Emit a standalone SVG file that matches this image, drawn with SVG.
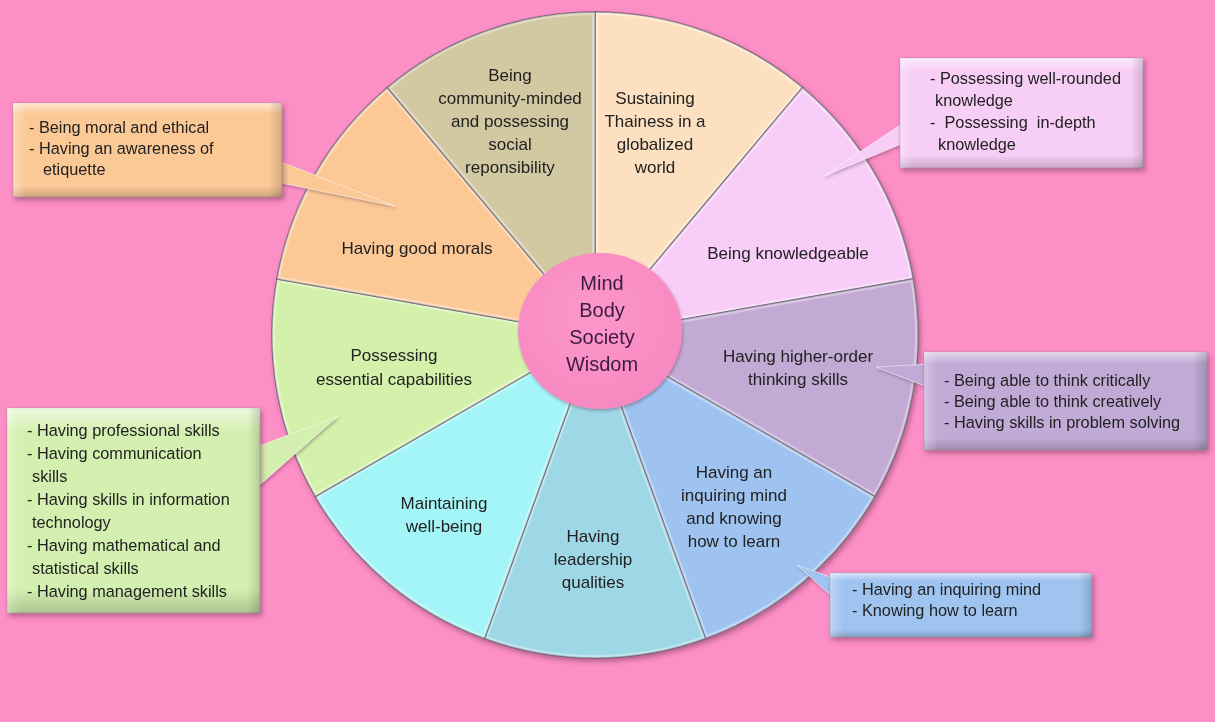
<svg xmlns="http://www.w3.org/2000/svg" width="1215" height="722" viewBox="0 0 1215 722">
<style>
text{font-family:"Liberation Sans",Arial,sans-serif;fill:#222}
.wl{font-size:17px;text-anchor:middle}
.bx{font-size:16.3px;white-space:pre}
.ctr{font-size:20px;text-anchor:middle;fill:#3B1B3D}
.wedge{stroke:#5F5A68;stroke-width:1.5;stroke-opacity:.8}
.hl{fill:none;stroke:#fff;stroke-width:6;stroke-opacity:.35}
.box{stroke:#9a8a95;stroke-width:.8;stroke-opacity:.6}
.tail{stroke:#fff;stroke-width:1;stroke-opacity:.5}
</style>
<defs>
<filter id="sh" x="-10%" y="-10%" width="125%" height="125%">
<feDropShadow dx="2" dy="3" stdDeviation="2.5" flood-color="#5a2a45" flood-opacity=".45"/>
</filter>
<filter id="shs" x="-10%" y="-10%" width="125%" height="125%">
<feDropShadow dx="1" dy="2" stdDeviation="1.5" flood-color="#5a2a45" flood-opacity=".35"/>
</filter>
<linearGradient id="gloss" x1="0" y1="0" x2="0" y2="1">
<stop offset="0" stop-color="#fff" stop-opacity=".55"/>
<stop offset=".12" stop-color="#fff" stop-opacity="0"/>
<stop offset=".88" stop-color="#000" stop-opacity="0"/>
<stop offset="1" stop-color="#000" stop-opacity=".18"/>
</linearGradient>
<linearGradient id="glossH" x1="0" y1="0" x2="1" y2="0">
<stop offset="0" stop-color="#fff" stop-opacity=".3"/>
<stop offset=".05" stop-color="#fff" stop-opacity="0"/>
<stop offset=".95" stop-color="#000" stop-opacity="0"/>
<stop offset="1" stop-color="#000" stop-opacity=".15"/>
</linearGradient>
<radialGradient id="cglow" cx=".45" cy=".4" r=".65">
<stop offset="0" stop-color="#FC97CA"/>
<stop offset="1" stop-color="#F788C0"/>
</radialGradient>
<path id="p1" d="M595,335 L595,12 A323,323 0 0,1 802.6,87.6 Z"/>
<path id="p2" d="M595,335 L802.6,87.6 A323,323 0 0,1 913.1,278.9 Z"/>
<path id="p3" d="M595,335 L913.1,278.9 A323,323 0 0,1 874.7,496.5 Z"/>
<path id="p4" d="M595,335 L874.7,496.5 A323,323 0 0,1 705.5,638.5 Z"/>
<path id="p5" d="M595,335 L705.5,638.5 A323,323 0 0,1 484.5,638.5 Z"/>
<path id="p6" d="M595,335 L484.5,638.5 A323,323 0 0,1 315.3,496.5 Z"/>
<path id="p7" d="M595,335 L315.3,496.5 A323,323 0 0,1 276.9,278.9 Z"/>
<path id="p8" d="M595,335 L276.9,278.9 A323,323 0 0,1 387.4,87.6 Z"/>
<path id="p9" d="M595,335 L387.4,87.6 A323,323 0 0,1 595,12 Z"/>
<clipPath id="c1"><use href="#p1"/></clipPath>
<clipPath id="c2"><use href="#p2"/></clipPath>
<clipPath id="c3"><use href="#p3"/></clipPath>
<clipPath id="c4"><use href="#p4"/></clipPath>
<clipPath id="c5"><use href="#p5"/></clipPath>
<clipPath id="c6"><use href="#p6"/></clipPath>
<clipPath id="c7"><use href="#p7"/></clipPath>
<clipPath id="c8"><use href="#p8"/></clipPath>
<clipPath id="c9"><use href="#p9"/></clipPath>
</defs>
<rect x="0" y="0" width="1215" height="722" fill="#FD8FC7"/>

<g id="wheel" filter="url(#sh)">
<g id="seg-thainess">
<use href="#p1" class="wedge" fill="#FCE0BF"/>
<use href="#p1" class="hl" clip-path="url(#c1)"/>
<text class="wl" x="655" y="104">Sustaining</text>
<text class="wl" x="655" y="127">Thainess in a</text>
<text class="wl" x="655" y="150">globalized</text>
<text class="wl" x="655" y="173">world</text>
</g>
<g id="seg-knowledgeable">
<use href="#p2" class="wedge" fill="#F8CDF8"/>
<use href="#p2" class="hl" clip-path="url(#c2)"/>
<text class="wl" x="788" y="259">Being knowledgeable</text>
</g>
<g id="seg-higher-order">
<use href="#p3" class="wedge" fill="#C2AAD4"/>
<use href="#p3" class="hl" clip-path="url(#c3)"/>
<text class="wl" x="798" y="362">Having higher-order</text>
<text class="wl" x="798" y="385">thinking skills</text>
</g>
<g id="seg-inquiring">
<use href="#p4" class="wedge" fill="#9EC3F0"/>
<use href="#p4" class="hl" clip-path="url(#c4)"/>
<text class="wl" x="734" y="478">Having an</text>
<text class="wl" x="734" y="501">inquiring mind</text>
<text class="wl" x="734" y="524">and knowing</text>
<text class="wl" x="734" y="547">how to learn</text>
</g>
<g id="seg-leadership">
<use href="#p5" class="wedge" fill="#9ED8E6"/>
<use href="#p5" class="hl" clip-path="url(#c5)"/>
<text class="wl" x="593" y="542">Having</text>
<text class="wl" x="593" y="565">leadership</text>
<text class="wl" x="593" y="588">qualities</text>
</g>
<g id="seg-wellbeing">
<use href="#p6" class="wedge" fill="#A4F5F8"/>
<use href="#p6" class="hl" clip-path="url(#c6)"/>
<text class="wl" x="444" y="509">Maintaining</text>
<text class="wl" x="444" y="532">well-being</text>
</g>
<g id="seg-essential">
<use href="#p7" class="wedge" fill="#D3F1AA"/>
<use href="#p7" class="hl" clip-path="url(#c7)"/>
<text class="wl" x="394" y="361">Possessing</text>
<text class="wl" x="394" y="385">essential capabilities</text>
</g>
<g id="seg-morals">
<use href="#p8" class="wedge" fill="#FCC895"/>
<use href="#p8" class="hl" clip-path="url(#c8)"/>
<text class="wl" x="417" y="254">Having good morals</text>
</g>
<g id="seg-community">
<use href="#p9" class="wedge" fill="#D2C8A2"/>
<use href="#p9" class="hl" clip-path="url(#c9)"/>
<text class="wl" x="510" y="81">Being</text>
<text class="wl" x="510" y="104">community-minded</text>
<text class="wl" x="510" y="127">and possessing</text>
<text class="wl" x="510" y="150">social</text>
<text class="wl" x="510" y="173">reponsibility</text>
</g>
</g>

<g id="center" filter="url(#shs)">
<ellipse cx="600" cy="331" rx="82" ry="78" fill="url(#cglow)"/>
<text class="ctr" x="602" y="290">Mind</text>
<text class="ctr" x="602" y="317">Body</text>
<text class="ctr" x="602" y="344">Society</text>
<text class="ctr" x="602" y="371">Wisdom</text>
</g>

<g id="connectors" filter="url(#shs)">
<polygon class="tail" points="276,160 276,182 395,206" fill="#FBC996"/>
<polygon class="tail" points="906,121 906,142 824,176" fill="#F7CEF6"/>
<polygon class="tail" points="930,364 930,388 876,367" fill="#C1AAD6"/>
<polygon class="tail" points="254,448 254,490 338,416" fill="#D4F0B0"/>
<polygon class="tail" points="836,579 836,600 797,565" fill="#A0C4F0"/>
</g>

<g id="box-morals" filter="url(#sh)">
<rect class="box" x="13" y="103" width="269" height="94" fill="#FBC996"/>
<rect x="13" y="103" width="269" height="94" fill="url(#gloss)"/>
<rect x="13" y="103" width="269" height="94" fill="url(#glossH)"/>
<text class="bx" x="29" y="133">- Being moral and ethical</text>
<text class="bx" x="29" y="154">- Having an awareness of</text>
<text class="bx" x="43" y="175">etiquette</text>
</g>

<g id="box-knowledge" filter="url(#sh)">
<rect class="box" x="900" y="58" width="243" height="110" fill="#F7CEF6"/>
<rect x="900" y="58" width="243" height="110" fill="url(#gloss)"/>
<rect x="900" y="58" width="243" height="110" fill="url(#glossH)"/>
<text class="bx" x="930" y="84">- Possessing well-rounded</text>
<text class="bx" x="935" y="106">knowledge</text>
<text class="bx" x="930" y="128">-  Possessing  in-depth</text>
<text class="bx" x="938" y="150">knowledge</text>
</g>

<g id="box-higher" filter="url(#sh)">
<rect class="box" x="924" y="352" width="283" height="98" fill="#C1AAD6"/>
<rect x="924" y="352" width="283" height="98" fill="url(#gloss)"/>
<rect x="924" y="352" width="283" height="98" fill="url(#glossH)"/>
<text class="bx" x="944" y="386">- Being able to think critically</text>
<text class="bx" x="944" y="407">- Being able to think creatively</text>
<text class="bx" x="944" y="428">- Having skills in problem solving</text>
</g>

<g id="box-essential" filter="url(#sh)">
<rect class="box" x="7" y="408" width="253" height="205" fill="#D4F0B0"/>
<rect x="7" y="408" width="253" height="205" fill="url(#gloss)"/>
<rect x="7" y="408" width="253" height="205" fill="url(#glossH)"/>
<text class="bx" x="27" y="436">- Having professional skills</text>
<text class="bx" x="27" y="459">- Having communication</text>
<text class="bx" x="32" y="482">skills</text>
<text class="bx" x="27" y="505">- Having skills in information</text>
<text class="bx" x="32" y="528">technology</text>
<text class="bx" x="27" y="551">- Having mathematical and</text>
<text class="bx" x="32" y="574">statistical skills</text>
<text class="bx" x="27" y="597">- Having management skills</text>
</g>

<g id="box-inquiring" filter="url(#sh)">
<rect class="box" x="830" y="573" width="262" height="64" fill="#A0C4F0"/>
<rect x="830" y="573" width="262" height="64" fill="url(#gloss)"/>
<rect x="830" y="573" width="262" height="64" fill="url(#glossH)"/>
<text class="bx" x="852" y="595">- Having an inquiring mind</text>
<text class="bx" x="852" y="616">- Knowing how to learn</text>
</g>
</svg>
